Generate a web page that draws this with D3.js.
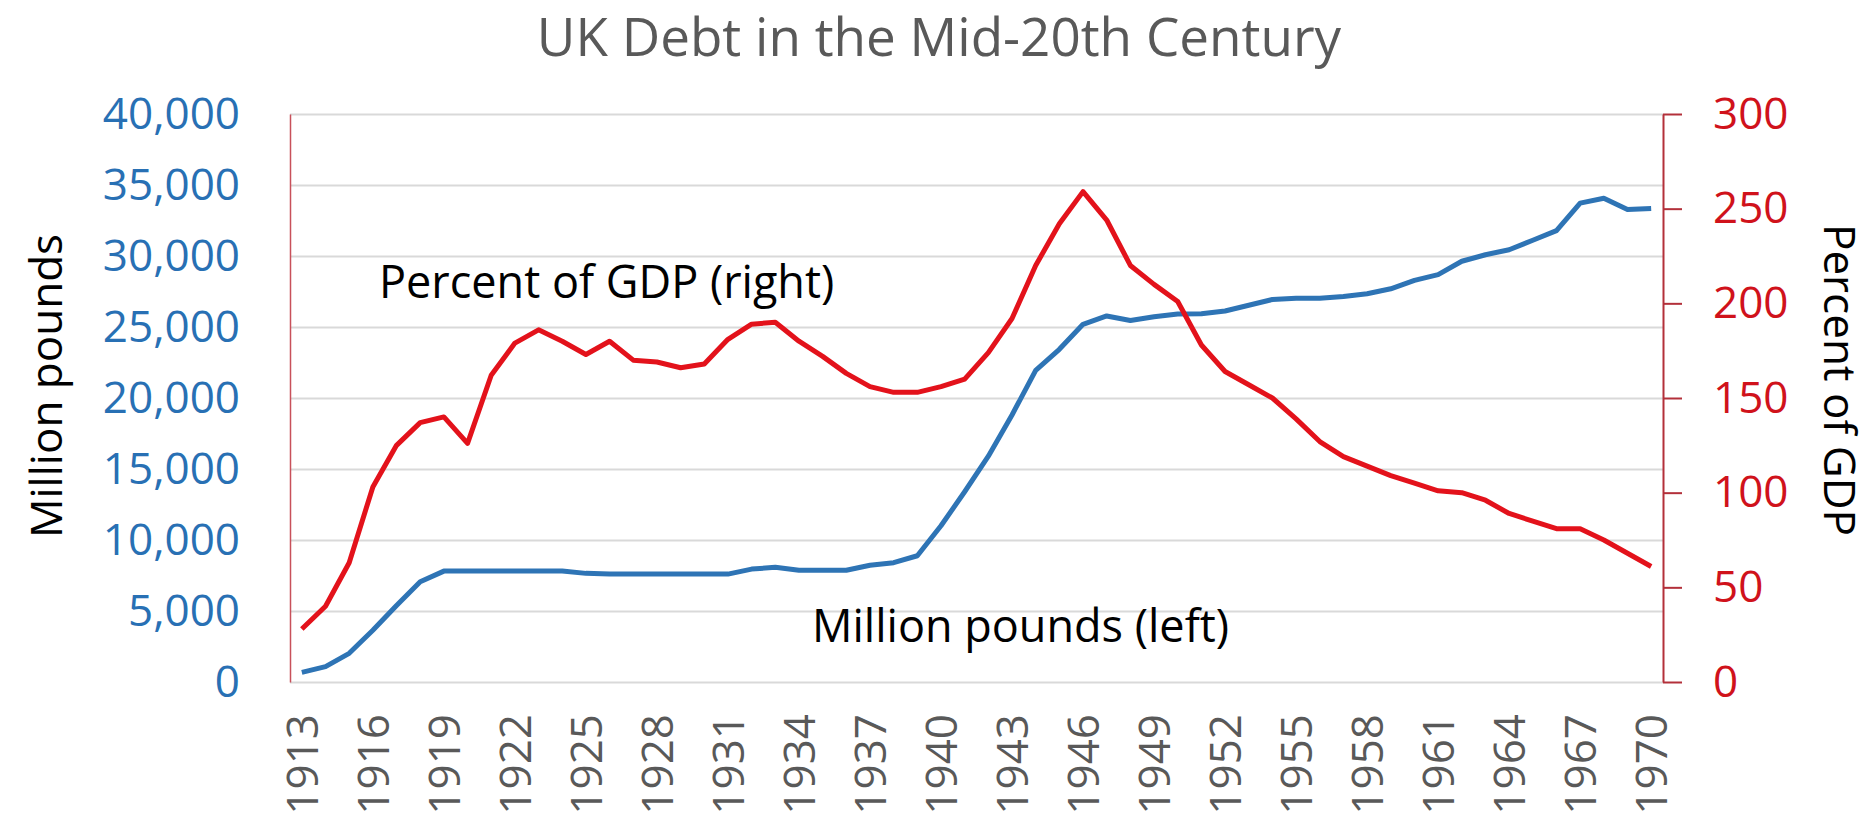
<!DOCTYPE html>
<html>
<head>
<meta charset="utf-8">
<script src="https://cdn.jsdelivr.net/npm/d3@7"></script>
<style>
  body { margin: 0; background: #fff; }
  text { font-family: "Open Sans", sans-serif; }
</style>
</head>
<body>
<div id="chart"></div>
<script>
// years on the category axis
var years = d3.range(1913, 1971);
var labelYears = d3.range(1913, 1971, 3);

// debt in million pounds (left axis)
var millionPounds = [680, 1080, 2020, 3640, 5390, 7060, 7810, 7810, 7810, 7810,
  7810, 7810, 7650, 7600, 7600, 7600, 7600, 7600, 7600, 7950,
  8080, 7870, 7870, 7870, 8220, 8400, 8890, 11000, 13400, 15900,
  18800, 21950, 23430, 25190, 25780, 25460, 25720, 25910, 25940, 26130,
  26530, 26940, 27020, 27020, 27150, 27340, 27690, 28280, 28690, 29630,
  30090, 30440, 31110, 31790, 33720, 34070, 33270, 33350];

// debt as percent of GDP (right axis)
var percentGDP = [28, 40, 63, 103, 125, 137, 140, 126, 162, 179,
  186, 180, 173, 180, 170, 169, 166, 168, 181, 189,
  190, 180, 172, 163, 156, 153, 153, 156, 160, 174,
  192, 220, 242, 259, 244, 220, 210, 201, 178, 164,
  157, 150, 139, 127, 119, 114, 109, 105, 101, 100,
  96, 89, 85, 81, 81, 75, 68, 61];

var leftTicks = d3.range(0, 40001, 5000);
var rightTicks = d3.range(0, 301, 50);

var width = 1872, height = 820;
var plot = {left: 290, right: 1663, top: 114, bottom: 682};

var svg = d3.select("#chart")
  .append("svg")
  .attr("width", width)
  .attr("height", height);

var x = d3.scalePoint()
  .domain(years)
  .range([plot.left, plot.right])
  .padding(0.5);

var yL = d3.scaleLinear().domain([0, 40000]).range([plot.bottom, plot.top]);
var yR = d3.scaleLinear().domain([0, 300]).range([plot.bottom, plot.top]);

// gridlines
var grid = svg.append("g")
  .attr("transform", "translate(" + plot.left + ",0)")
  .call(d3.axisLeft(yL).tickValues(leftTicks)
    .tickSize(-(plot.right - plot.left)).tickFormat(""));
grid.select(".domain").remove();
grid.selectAll("line").attr("stroke", "#d9d9d9").attr("stroke-width", 2);

// left axis: line + blue labels
var leftAxis = svg.append("g")
  .attr("transform", "translate(" + plot.left + ",0)")
  .call(d3.axisLeft(yL).tickValues(leftTicks).tickSize(0).tickSizeOuter(0)
    .tickPadding(50).tickFormat(d3.format(",")));
leftAxis.select(".domain").attr("stroke", "#c8505a").attr("stroke-width", 1.5);
leftAxis.selectAll("text")
  .attr("fill", "#2870b4")
  .style("font-size", "44px");

// right axis: dark red line with ticks, red labels
var rightAxis = svg.append("g")
  .attr("transform", "translate(" + plot.right + ",0)")
  .call(d3.axisRight(yR).tickValues(rightTicks).tickSize(19).tickSizeOuter(0)
    .tickPadding(31));
rightAxis.select(".domain").attr("stroke", "#b3303a").attr("stroke-width", 2);
rightAxis.selectAll("line").attr("stroke", "#b3303a").attr("stroke-width", 2);
rightAxis.selectAll("text")
  .attr("fill", "#d0121b")
  .style("font-size", "44px");

// bottom axis: rotated year labels
var bottomAxis = svg.append("g")
  .attr("transform", "translate(0," + plot.bottom + ")")
  .call(d3.axisBottom(x).tickValues(labelYears).tickSize(0));
bottomAxis.select(".domain").remove();
bottomAxis.selectAll("text")
  .attr("fill", "#595959")
  .style("font-size", "44px")
  .attr("text-anchor", "end")
  .attr("transform", "rotate(-90)")
  .attr("x", -32)
  .attr("y", 0)
  .attr("dy", "0.35em");

// lines
svg.append("path")
  .datum(millionPounds)
  .attr("fill", "none")
  .attr("stroke", "#2e74b5")
  .attr("stroke-width", 5)
  .attr("stroke-linejoin", "round")
  .attr("d", d3.line()
    .x(function(d, i) { return x(years[i]); })
    .y(function(d) { return yL(d); }));

svg.append("path")
  .datum(percentGDP)
  .attr("fill", "none")
  .attr("stroke", "#e3121b")
  .attr("stroke-width", 5)
  .attr("stroke-linejoin", "round")
  .attr("d", d3.line()
    .x(function(d, i) { return x(years[i]); })
    .y(function(d) { return yR(d); }));

// title
svg.append("text")
  .attr("x", 939)
  .attr("y", 56)
  .attr("text-anchor", "middle")
  .attr("fill", "#595959")
  .style("font-size", "53px")
  .text("UK Debt in the Mid-20th Century");

// axis titles
svg.append("text")
  .attr("transform", "translate(62,386) rotate(-90)")
  .attr("text-anchor", "middle")
  .style("font-size", "44px")
  .text("Million pounds");

svg.append("text")
  .attr("transform", "translate(1824,380) rotate(90)")
  .attr("text-anchor", "middle")
  .style("font-size", "44px")
  .text("Percent of GDP");

// series annotations
svg.append("text")
  .attr("x", 379)
  .attr("y", 298)
  .style("font-size", "45px")
  .text("Percent of GDP (right)");

svg.append("text")
  .attr("x", 812)
  .attr("y", 642)
  .style("font-size", "45px")
  .text("Million pounds (left)");
</script>
</body>
</html>
